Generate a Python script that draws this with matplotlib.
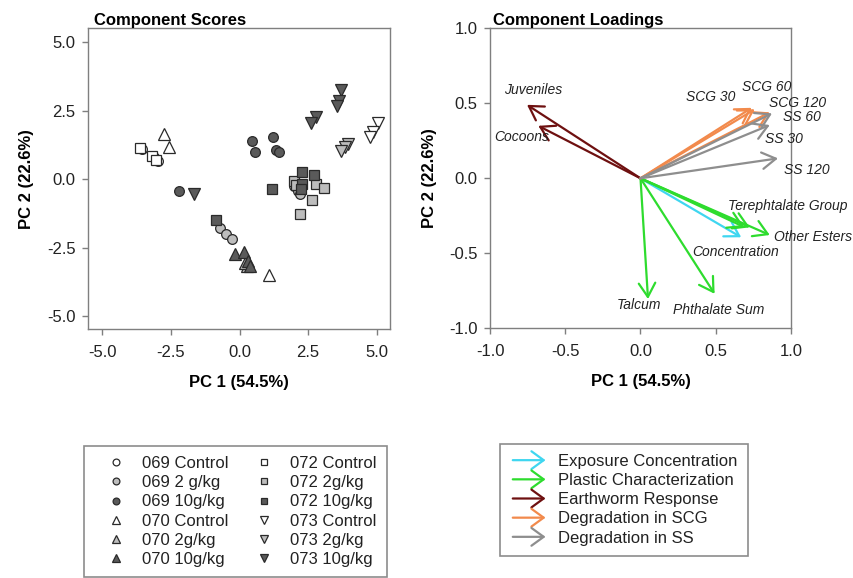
import matplotlib

matplotlib.use("Agg")
import matplotlib.pyplot as plt
from matplotlib.lines import Line2D
from matplotlib.legend_handler import HandlerBase
from matplotlib.patches import FancyArrowPatch

plt.rcParams["font.family"] = ["Liberation Sans", "DejaVu Sans"]
plt.rcParams["axes.unicode_minus"] = False

# ---- component scores ----
groups = ["069 Control", "069 2 g/kg", "069 10g/kg",
          "070 Control", "070 2g/kg", "070 10g/kg",
          "072 Control", "072 2g/kg", "072 10g/kg",
          "073 Control", "073 2g/kg", "073 10g/kg"]
score_x = [
    [-3.55, -3.12, -2.98],
    [-0.70, -0.51, -0.28, 1.98, 2.12, 2.22],
    [0.44, 1.22, 0.56, 1.32, 1.44, -2.21],
    [-2.77, -2.57, 1.07],
    [0.26, 0.20],
    [-0.15, 0.16, 0.30, 0.38],
    [-3.62, -3.18, -3.06],
    [2.00, 2.78, 3.08, 2.65, 2.22, 2.05],
    [1.18, -0.86, 2.28, 2.70, 2.28, 2.25],
    [5.07, 4.88, 4.76],
    [3.96, 3.84, 3.70],
    [3.70, 3.64, 3.54, 2.80, 2.59, -1.65],
]
score_y = [
    [1.12, 0.82, 0.68],
    [-1.79, -1.99, -2.17, -0.25, -0.43, -0.55],
    [1.40, 1.55, 1.00, 1.07, 1.01, -0.44],
    [1.65, 1.16, -3.48],
    [-3.15, -3.05],
    [-2.72, -2.66, -2.99, -3.15],
    [1.15, 0.86, 0.72],
    [-0.06, -0.18, -0.30, -0.77, -1.26, -0.20],
    [-0.34, -1.49, 0.25, 0.16, -0.18, -0.37],
    [2.05, 1.71, 1.56],
    [1.28, 1.16, 1.04],
    [3.27, 2.87, 2.69, 2.26, 2.04, -0.55],
]
markers = ["o", "o", "o", "^", "^", "^", "s", "s", "s", "v", "v", "v"]
fills = ["white", "#bdbdbd", "#5a5a5a"] * 4
msize = {"o": 7, "s": 7, "^": 8, "v": 8}

# ---- component loadings ----
load_names = ["Concentration",
              "Terephtalate Group", "", "Other Esters", "Talcum", "Phthalate Sum",
              "Juveniles", "Cocoons",
              "SCG 30", "SCG 60", "SCG 120",
              "SS 30", "SS 60", "SS 120"]
load_x = [0.67, 0.727, 0.69, 0.86, 0.05, 0.493, -0.755, -0.68,
          0.76, 0.74, 0.86, 0.86, 0.875, 0.915]
load_y = [-0.393, -0.327, -0.325, -0.378, -0.805, -0.77, 0.49, 0.35,
          0.46, 0.47, 0.44, 0.355, 0.433, 0.133]
load_cat = [0, 1, 1, 1, 1, 1, 2, 2, 3, 3, 3, 4, 4, 4]
label_x = [0.345, 0.585, None, 0.89, -0.16, 0.218, -0.907, -0.973,
           0.305, 0.678, 0.857, 0.827, 0.947, 0.953]
label_y = [-0.49, -0.182, None, -0.39, -0.845, -0.88, 0.59, 0.275,
           0.54, 0.607, 0.50, 0.265, 0.408, 0.055]
cat_names = ["Exposure Concentration", "Plastic Characterization",
             "Earthworm Response", "Degradation in SCG", "Degradation in SS"]
cat_colors = ["#3fd6f0", "#2edc2e", "#6e1010", "#f28a4c", "#8e8e8e"]

SPINE = "#7f7f7f"
TEXT = "#222222"


class HandlerArrow(HandlerBase):
    def create_artists(self, legend, orig_handle, xdescent, ydescent,
                       width, height, fontsize, trans):
        yc = height / 2 - ydescent
        arr = FancyArrowPatch((-xdescent, yc), (width - xdescent, yc),
                              arrowstyle="->,head_length=0.55,head_width=0.4",
                              mutation_scale=16, lw=1.6,
                              color=orig_handle.get_color(), transform=trans)
        return [arr]


def style_axes(ax):
    for sp in ax.spines.values():
        sp.set_color(SPINE)
        sp.set_linewidth(1.0)
    ax.tick_params(direction="out", length=4, width=1, color=SPINE,
                   labelsize=12, labelcolor=TEXT)
    ax.tick_params(axis="x", pad=7)
    ax.tick_params(axis="y", pad=5)


fig = plt.figure(figsize=(8.54, 5.78), dpi=100)

# ---------------- scores ----------------
ax1 = fig.add_axes([0.103, 0.430, 0.354, 0.522])
for i, g in enumerate(groups):
    ax1.plot(score_x[i], score_y[i], linestyle="none", marker=markers[i],
             markersize=msize[markers[i]], markerfacecolor=fills[i],
             markeredgecolor="#2a2a2a", markeredgewidth=0.9, label=g, zorder=3)
ax1.set_xlim(-5.53, 5.5)
ax1.set_ylim(-5.48, 5.53)
ticks1 = [-5.0, -2.5, 0.0, 2.5, 5.0]
ax1.set_xticks(ticks1)
ax1.set_yticks(ticks1)
ax1.set_xticklabels([f"{t:.1f}" for t in ticks1])
ax1.set_yticklabels([f"{t:.1f}" for t in ticks1])
style_axes(ax1)
ax1.set_xlabel("PC 1 (54.5%)", fontsize=12, fontweight="bold", labelpad=11)
ax1.set_ylabel("PC 2 (22.6%)", fontsize=12, fontweight="bold", labelpad=9)
ax1.text(0.02, 1.0, "Component Scores", transform=ax1.transAxes,
         fontsize=12, fontweight="bold", ha="left", va="bottom")

# ---------------- loadings ----------------
ax2 = fig.add_axes([0.574, 0.432, 0.352, 0.519])
for c in range(len(cat_names)):
    for i in range(len(load_x)):
        if load_cat[i] != c:
            continue
        ax2.annotate("", xy=(load_x[i], load_y[i]), xytext=(0, 0),
                     arrowprops=dict(arrowstyle="->,head_length=0.55,head_width=0.33",
                                     mutation_scale=18, lw=1.6,
                                     color=cat_colors[c], shrinkA=0, shrinkB=0))
for i, name in enumerate(load_names):
    if name:
        ax2.text(label_x[i], label_y[i], name, fontsize=10, style="italic",
                 color=TEXT, ha="left", va="center", clip_on=False)
ax2.set_xlim(-1, 1)
ax2.set_ylim(-1, 1)
ticks2 = [-1.0, -0.5, 0.0, 0.5, 1.0]
ax2.set_xticks(ticks2)
ax2.set_yticks(ticks2)
ax2.set_xticklabels([f"{t:.1f}" for t in ticks2])
ax2.set_yticklabels([f"{t:.1f}" for t in ticks2])
style_axes(ax2)
ax2.set_xlabel("PC 1 (54.5%)", fontsize=12, fontweight="bold", labelpad=11)
ax2.set_ylabel("PC 2 (22.6%)", fontsize=12, fontweight="bold", labelpad=9)
ax2.text(0.01, 1.0, "Component Loadings", transform=ax2.transAxes,
         fontsize=12, fontweight="bold", ha="left", va="bottom")

# ---------------- legends ----------------
h1, l1 = ax1.get_legend_handles_labels()
leg1 = fig.legend(h1, l1, ncol=2, loc="upper left",
                  bbox_to_anchor=(84 / 854, 1 - 446 / 578), borderaxespad=0,
                  fontsize=12, markerscale=0.7, borderpad=0.6,
                  handlelength=2.6, handletextpad=0.3, columnspacing=0.8,
                  labelspacing=0.25, fancybox=False, framealpha=1)
leg1.get_frame().set_edgecolor("#8c8c8c")
leg1.get_frame().set_linewidth(1.2)
for t in leg1.get_texts():
    t.set_color(TEXT)

h2 = [Line2D([], [], color=c) for c in cat_colors]
leg2 = fig.legend(h2, cat_names, loc="upper left",
                  bbox_to_anchor=(500 / 854, 1 - 444 / 578), borderaxespad=0,
                  fontsize=12, borderpad=0.6, handlelength=2.3,
                  handletextpad=0.6, labelspacing=0.25, fancybox=False,
                  framealpha=1, handler_map={Line2D: HandlerArrow()})
leg2.get_frame().set_edgecolor("#8c8c8c")
leg2.get_frame().set_linewidth(1.2)
for t in leg2.get_texts():
    t.set_color(TEXT)

fig.savefig("out.png", dpi=100)
plt.close(fig)
